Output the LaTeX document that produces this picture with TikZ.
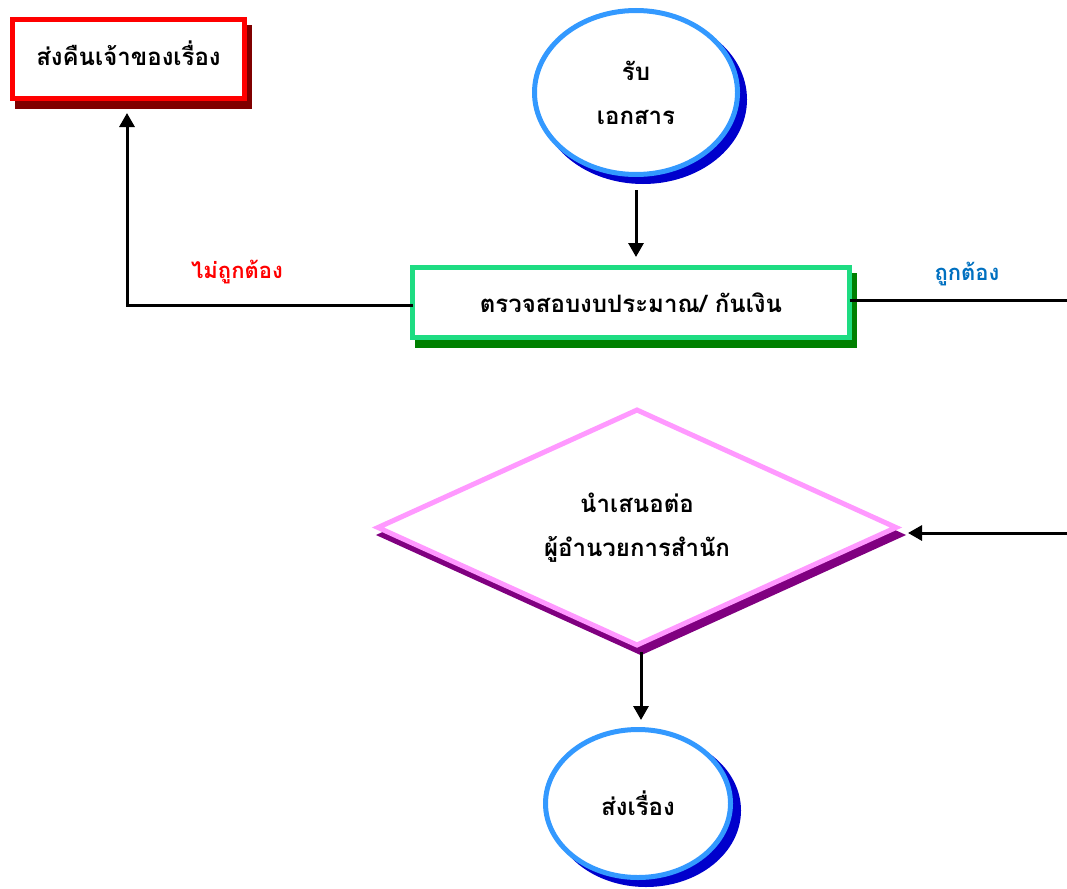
\documentclass[tikz,border=0pt]{standalone}
\usepackage{fontspec}
\newfontfamily\thaifont[Script=Thai]{Loma}
\usetikzlibrary{shapes.geometric,arrows.meta}
\definecolor{redline}{HTML}{FF0000}
\definecolor{redshade}{HTML}{800000}
\definecolor{blueline}{HTML}{3399FF}
\definecolor{blueshade}{HTML}{0000CC}
\definecolor{greenline}{HTML}{1EDC82}
\definecolor{greenshade}{HTML}{008000}
\definecolor{pinkline}{HTML}{FF99FF}
\definecolor{purpleshade}{HTML}{800080}
\definecolor{oklabel}{HTML}{0070C0}
\tikzset{
  thtext/.style={font=\thaifont\bfseries\fontsize{24}{44}\selectfont, align=center},
  boxred/.style={rectangle, draw=redline, line width=5pt, fill=white, minimum width=232pt, minimum height=79pt, inner sep=0pt, outer sep=0pt},
  boxredsh/.style={rectangle, draw=redshade, fill=redshade, line width=5pt, minimum width=232pt, minimum height=79pt, inner sep=0pt, outer sep=0pt},
  boxgreen/.style={rectangle, draw=greenline, line width=5pt, fill=white, minimum width=437pt, minimum height=70pt, inner sep=0pt, outer sep=0pt, thtext},
  boxgreensh/.style={rectangle, draw=greenshade, fill=greenshade, line width=5pt, minimum width=437pt, minimum height=70pt, inner sep=0pt, outer sep=0pt},
  ovalblue/.style={ellipse, draw=blueline, line width=5pt, fill=white, inner sep=0pt, outer sep=0pt, thtext},
  ovalbluesh/.style={ellipse, draw=blueshade, fill=blueshade, line width=5pt, inner sep=0pt, outer sep=0pt},
  diapink/.style={diamond, draw=pinkline, line width=5pt, fill=white, minimum width=518pt, minimum height=235pt, inner sep=0pt, outer sep=0pt},
  diapinksh/.style={diamond, draw=purpleshade, fill=purpleshade, line width=5pt, minimum width=518pt, minimum height=235pt, inner sep=0pt, outer sep=0pt},
  conn/.style={line width=3pt, draw=black},
  arr/.style={conn, -{Triangle[width=15pt,length=14pt]}},
  lbl/.style={font=\thaifont\bfseries\fontsize{22}{26}\selectfont}
}
\begin{document}
\begin{tikzpicture}[x=1pt,y=-1pt]
\useasboundingbox (0,0) rectangle (1067,888);
% red box
\node[boxredsh] (retsh) at (133.5,67) {};
\node[boxred] (ret) at (128.5,59) {};
\node[thtext, inner sep=0pt] (rettxt) at ([yshift=6pt]ret.center) {ส่งคืนเจ้าของเรื่อง};
% top ellipse
\node[ovalbluesh, minimum width=203pt, minimum height=164pt] (startsh) at (643,99.5) {};
\node[ovalblue, minimum width=203pt, minimum height=164pt] (start) at (636,92.5) {รับ\\เอกสาร};
% green box
\node[boxgreensh] (chksh) at (636,310.5) {};
\node[boxgreen] (chk) at (631,302.5) {ตรวจสอบงบประมาณ/ กันเงิน};
% diamond
\node[diapinksh] (dsh) at (641,535) {};
\node[diapink] (dia) at (637,527.5) {};
\node[thtext, inner sep=0pt] (diatxt) at (dia.center) {นำเสนอต่อ\\ผู้อำนวยการสำนัก};
% bottom ellipse
\node[ovalbluesh, minimum width=185pt, minimum height=148pt] (endsh) at (646,810.5) {};
\node[ovalblue, minimum width=185pt, minimum height=148pt] (send) at (638,803.5) {ส่งเรื่อง};
% free ends
\coordinate (rOut) at (1067,300);
\coordinate (rIn) at (1067,533);
% connectors
\draw[arr, shorten <=15.5pt, shorten >=10.5pt] (start.south) -- (start.south |- chk.north);
\draw[arr, shorten >=14.5pt] ([yshift=-2.5pt]chk.west) -| ([xshift=-1.5pt]ret.south);
\draw[conn] ([yshift=2.5pt]chk.east) -- (rOut);
\draw[arr] (rIn) -- ([xshift=12pt,yshift=-5.5pt]dia.east);
\draw[arr, shorten <=7pt, shorten >=9.5pt] ([xshift=4pt]dia.south) -- ([xshift=4pt]dia.south |- send.north);
% labels
\node[lbl, text=redline] (lno) at (237,272) {ไม่ถูกต้อง};
\node[lbl, text=oklabel] (lok) at (967,274) {ถูกต้อง};
\end{tikzpicture}
\end{document}
